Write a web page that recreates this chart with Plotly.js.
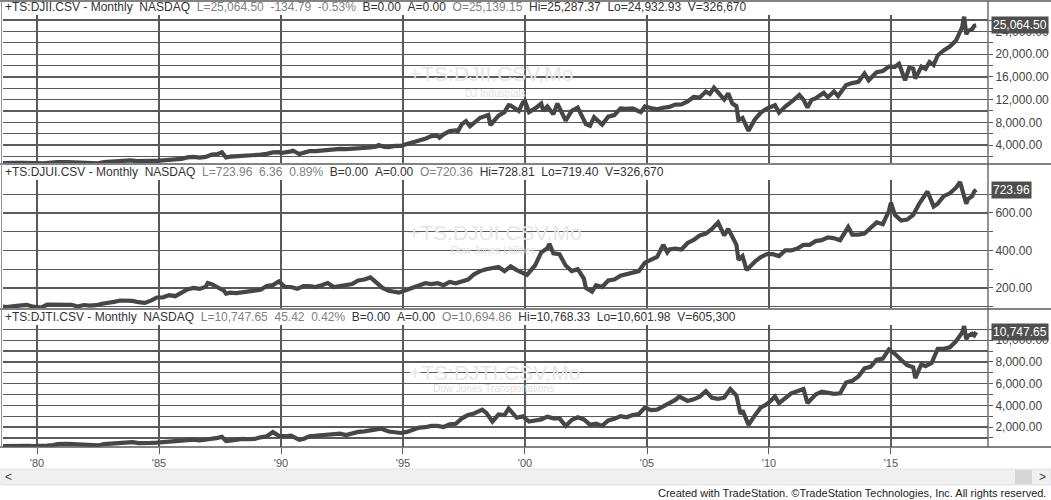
<!DOCTYPE html>
<html><head><meta charset="utf-8">
<script src="https://cdn.plot.ly/plotly-3.0.1.min.js"></script>
<style>html,body{margin:0;padding:0;background:#fff;}#chart{width:1051px;height:500px;}</style>
</head><body><div id="chart"></div>
<script>
// ---------- DATA ----------
const djiDates = ["1978-06","1978-09","1978-11","1979-03","1979-06","1979-09","1979-11","1980-04","1980-06","1980-09","1980-11","1981-04","1981-06","1981-09","1981-12","1982-03","1982-07","1982-10","1982-12","1983-03","1983-06","1983-09","1983-11","1984-02","1984-05","1984-07","1984-09","1984-12","1985-03","1985-06","1985-09","1985-12","1986-03","1986-06","1986-09","1986-12","1987-03","1987-06","1987-08","1987-10","1987-12","1988-03","1988-06","1988-09","1988-12","1989-03","1989-06","1989-09","1989-12","1990-01","1990-06","1990-07","1990-10","1990-12","1991-03","1991-06","1991-09","1991-12","1992-03","1992-06","1992-09","1992-12","1993-03","1993-06","1993-09","1993-12","1994-01","1994-04","1994-06","1994-09","1994-12","1995-03","1995-06","1995-09","1995-12","1996-03","1996-06","1996-07","1996-09","1996-12","1997-03","1997-04","1997-06","1997-08","1997-10","1997-12","1998-03","1998-07","1998-08","1998-12","1999-03","1999-05","1999-06","1999-10","1999-12","2000-01","2000-03","2000-06","2000-09","2000-10","2000-12","2001-03","2001-05","2001-09","2001-12","2002-03","2002-07","2002-09","2002-11","2003-03","2003-06","2003-09","2003-12","2004-03","2004-06","2004-10","2004-12","2005-03","2005-06","2005-09","2005-12","2006-03","2006-06","2006-09","2006-12","2007-03","2007-06","2007-08","2007-10","2007-12","2008-03","2008-05","2008-07","2008-09","2008-10","2008-12","2009-02","2009-03","2009-06","2009-09","2009-12","2010-04","2010-06","2010-09","2010-12","2011-04","2011-06","2011-08","2011-10","2011-12","2012-04","2012-06","2012-09","2012-11","2012-12","2013-03","2013-06","2013-09","2013-12","2014-02","2014-06","2014-09","2014-12","2015-03","2015-05","2015-08","2015-10","2015-12","2016-01","2016-04","2016-06","2016-08","2016-10","2016-12","2017-03","2017-06","2017-09","2017-11","2017-12","2018-01","2018-02","2018-03","2018-05","2018-06","2018-07"];
const djiValues = [819,880,790,862,842,878,800,760,868,932,990,1010,977,840,875,800,790,990,1047,1130,1222,1233,1280,1150,1110,1110,1207,1212,1267,1336,1329,1547,1819,1893,1768,1896,2305,2419,2700,1800,1939,1989,2142,2113,2169,2293,2440,2693,2753,2590,2881,2999,2400,2634,2914,2907,3017,3169,3236,3319,3272,3301,3436,3516,3555,3754,3978,3650,3625,3843,3834,4158,4556,4789,5117,5587,5655,5300,5882,6448,6584,6400,7673,8200,7300,7908,8800,9300,7500,9181,9786,11000,10971,10000,11497,11700,9800,10448,11300,10000,10788,9400,11300,8300,10022,10600,7700,7400,8900,7600,8985,9275,10454,10358,10435,9800,10783,10504,10275,10569,10718,11109,11150,11679,12463,12354,13409,13000,14100,13265,12000,13100,11300,10851,8400,8776,7062,6500,8447,9712,10428,11000,9700,10788,11578,12800,12000,10600,11955,12218,13200,12400,13437,12600,13104,14579,14910,15130,16577,15400,16827,17043,17823,17776,18300,15400,17600,17425,15700,17800,17400,18600,18100,19763,20663,21350,22405,24272,24719,26600,23500,24103,24416,25000,25064.50];

const djuDates = ["1978-06","1978-10","1979-03","1979-08","1979-11","1980-03","1980-06","1980-09","1980-12","1981-03","1981-06","1981-09","1981-12","1982-03","1982-06","1982-09","1982-12","1983-03","1983-06","1983-09","1983-12","1984-03","1984-06","1984-09","1984-12","1985-03","1985-06","1985-09","1985-12","1986-03","1986-06","1986-09","1986-12","1987-01","1987-03","1987-06","1987-09","1987-10","1987-12","1988-03","1988-06","1988-09","1988-12","1989-03","1989-06","1989-09","1989-12","1990-03","1990-06","1990-09","1990-12","1991-03","1991-06","1991-09","1991-12","1992-03","1992-06","1992-09","1992-12","1993-03","1993-06","1993-09","1993-12","1994-03","1994-06","1994-09","1994-11","1995-03","1995-06","1995-09","1995-12","1996-03","1996-06","1996-09","1996-12","1997-03","1997-06","1997-09","1997-12","1998-03","1998-06","1998-09","1998-12","1999-03","1999-06","1999-09","1999-12","2000-02","2000-06","2000-09","2000-12","2001-01","2001-03","2001-06","2001-09","2001-12","2002-03","2002-06","2002-07","2002-10","2002-12","2003-03","2003-06","2003-09","2003-12","2004-03","2004-06","2004-09","2004-12","2005-03","2005-06","2005-09","2005-11","2005-12","2006-03","2006-06","2006-09","2006-12","2007-03","2007-06","2007-09","2007-12","2008-03","2008-05","2008-09","2008-10","2008-12","2009-02","2009-06","2009-09","2009-12","2010-03","2010-06","2010-09","2010-12","2011-03","2011-06","2011-09","2011-12","2012-03","2012-06","2012-09","2012-12","2013-04","2013-06","2013-09","2013-12","2014-03","2014-06","2014-09","2014-12","2015-01","2015-03","2015-06","2015-09","2015-12","2016-03","2016-07","2016-10","2016-12","2017-03","2017-06","2017-09","2017-11","2017-12","2018-01","2018-02","2018-03","2018-05","2018-06","2018-07"];
const djuValues = [105,98,104,110,100,95,111,110,114,108,110,101,109,106,108,116,119,126,133,134,131,124,120,132,149,150,162,156,174,192,200,195,206,226,220,200,185,170,175,172,178,180,186,190,210,215,235,205,205,195,210,210,205,215,226,205,210,218,221,240,245,256,229,200,185,180,175,190,200,215,225,220,225,215,232,225,235,245,273,290,300,305,312,290,315,295,283,270,320,390,412,435,385,380,320,290,300,250,200,180,215,205,240,245,265,275,280,290,335,350,365,430,390,405,410,405,440,456,480,490,515,550,480,515,430,350,370,295,340,365,380,380,370,400,400,410,430,430,450,455,470,465,455,525,485,485,490,520,550,540,610,655,590,560,565,590,650,715,635,650,690,705,735,765,725,700,650,675,690,715,723.96];

const djtDates = ["1978-06","1978-09","1978-11","1979-03","1979-06","1979-09","1979-11","1980-03","1980-06","1980-09","1980-11","1981-04","1981-06","1981-09","1981-12","1982-03","1982-07","1982-10","1982-12","1983-03","1983-06","1983-09","1983-12","1984-03","1984-06","1984-09","1984-12","1985-03","1985-06","1985-09","1985-12","1986-03","1986-06","1986-09","1986-12","1987-03","1987-06","1987-08","1987-10","1987-12","1988-03","1988-06","1988-09","1988-12","1989-03","1989-06","1989-09","1989-12","1990-03","1990-06","1990-10","1990-12","1991-03","1991-06","1991-09","1991-12","1992-03","1992-06","1992-09","1992-12","1993-03","1993-06","1993-09","1993-12","1994-02","1994-06","1994-09","1994-12","1995-03","1995-06","1995-09","1995-12","1996-03","1996-06","1996-09","1996-12","1997-03","1997-06","1997-09","1997-12","1998-04","1998-06","1998-09","1998-12","1999-03","1999-05","1999-09","1999-12","2000-03","2000-06","2000-09","2000-12","2001-03","2001-06","2001-09","2001-12","2002-03","2002-06","2002-09","2002-12","2003-03","2003-06","2003-09","2003-12","2004-03","2004-06","2004-09","2004-12","2005-03","2005-06","2005-09","2005-12","2006-03","2006-05","2006-09","2006-12","2007-03","2007-06","2007-09","2007-12","2008-03","2008-06","2008-09","2008-11","2008-12","2009-03","2009-06","2009-09","2009-12","2010-04","2010-06","2010-09","2010-12","2011-03","2011-06","2011-08","2011-10","2011-12","2012-03","2012-06","2012-09","2012-12","2013-03","2013-06","2013-09","2013-12","2014-03","2014-06","2014-09","2014-12","2015-03","2015-06","2015-09","2015-12","2016-01","2016-04","2016-06","2016-09","2016-12","2017-03","2017-06","2017-09","2017-12","2018-01","2018-02","2018-03","2018-05","2018-06","2018-07"];
const djtValues = [230,250,205,230,245,265,235,230,290,340,420,445,430,340,380,340,300,430,450,520,590,570,600,520,480,530,560,610,650,630,710,780,830,760,810,950,1000,1100,700,750,850,900,870,900,1050,1150,1530,1180,1150,1200,820,900,1150,1200,1300,1360,1400,1380,1250,1450,1550,1600,1700,1760,1850,1580,1500,1450,1550,1800,1950,1980,2100,2100,2000,2250,2300,2800,3100,3250,3600,3300,2500,3150,3100,3700,2850,2980,2500,2600,2700,2950,2800,2800,2100,2650,2900,2700,2200,2300,2100,2600,2750,3000,2900,3100,3200,3800,3550,3600,3850,4200,4500,4800,4400,4550,4800,5300,4700,4600,4700,5500,4900,3200,3550,2200,3050,3800,4100,4800,4200,4600,5100,5300,5500,4200,4600,5000,5250,5150,5050,5100,6100,6250,6650,7400,7550,8200,8300,9150,8750,8200,7700,7500,6500,7800,7600,7900,9200,9200,9350,9900,10700,11300,10100,10400,10600,10450,10747.65];

const headers = [
  {sym:"+TS:DJII.CSV - Monthly", exch:"NASDAQ", chg:"L=25,064.50\u00a0\u00a0-134.79\u00a0\u00a0-0.53%", ba:"B=0.00\u00a0\u00a0A=0.00", open:"O=25,139.15", rest:"Hi=25,287.37\u00a0\u00a0Lo=24,932.93\u00a0\u00a0V=326,670"},
  {sym:"+TS:DJUI.CSV - Monthly", exch:"NASDAQ", chg:"L=723.96\u00a0\u00a06.36\u00a0\u00a00.89%", ba:"B=0.00\u00a0\u00a0A=0.00", open:"O=720.36", rest:"Hi=728.81\u00a0\u00a0Lo=719.40\u00a0\u00a0V=326,670"},
  {sym:"+TS:DJTI.CSV - Monthly", exch:"NASDAQ", chg:"L=10,747.65\u00a0\u00a045.42\u00a0\u00a00.42%", ba:"B=0.00\u00a0\u00a0A=0.00", open:"O=10,694.86", rest:"Hi=10,768.33\u00a0\u00a0Lo=10,601.98\u00a0\u00a0V=605,300"}
];
const watermarks = ["+TS:DJII.CSV,Mo","+TS:DJUI.CSV,Mo","+TS:DJTI.CSV,Mo"];
const subtitles = ["DJ Industrials","Dow Jones Utilities","Dow Jones Transportations"];
const footer = "Created with TradeStation. \u00a9TradeStation Technologies, Inc. All rights reserved.";

// ---------- LAYOUT ----------
const L = 3, PW = 985, PH = 447;
const px = x => (x - L) / PW;
const py = y => (PH - y) / PH;
const GRID = '#5a5a5a';
const FONT = 'Liberation Sans, Arial, sans-serif';
const lineStyle = {color:'#464646', width:4.2};

const traces = [
  {x:djiDates, y:djiValues, xaxis:'x', yaxis:'y', type:'scatter', mode:'lines', line:lineStyle, hoverinfo:'skip'},
  {x:djuDates, y:djuValues, xaxis:'x2', yaxis:'y2', type:'scatter', mode:'lines', line:lineStyle, hoverinfo:'skip'},
  {x:djtDates, y:djtValues, xaxis:'x3', yaxis:'y3', type:'scatter', mode:'lines', line:lineStyle, hoverinfo:'skip'}
];

const xBase = {type:'date', range:['1978-08-10','2018-12-24'], showgrid:true, gridcolor:GRID, gridwidth:1.3,
  dtick:'M60', tick0:'1980-01-01', zeroline:false, showline:false, fixedrange:true};
const yBase = {side:'right', showgrid:true, gridcolor:GRID, gridwidth:1.3, zeroline:false, showline:false,
  ticks:'outside', ticklen:4, tickcolor:GRID, tickfont:{family:FONT, size:12, color:'#444'}, fixedrange:true};
const minor = d => ({dtick:d, showgrid:true, gridcolor:GRID, gridwidth:1.3, ticks:'outside', ticklen:4, tickcolor:GRID});

const shapes = [];
const hline = (y, x0, x1) => shapes.push({type:'line', xref:'paper', yref:'paper', x0:px(x0), x1:px(x1), y0:py(y), y1:py(y), line:{color:GRID, width:1.3}});
hline(1, 0, 1051);
hline(164, 0, 1051);
hline(309, 0, 1051);
hline(447, 0, 1051);
shapes.push({type:'line', xref:'paper', yref:'paper', x0:px(988), x1:px(988), y0:py(447), y1:py(1), line:{color:GRID, width:1.3}});
shapes.push({type:'line', xref:'paper', yref:'paper', x0:px(1.5), x1:px(1.5), y0:py(447), y1:py(1), line:{color:'#999', width:1}});
// scroll bar
shapes.push({type:'rect', xref:'paper', yref:'paper', x0:px(1), x1:px(1051), y0:py(485), y1:py(469), fillcolor:'#f0f0f0', line:{color:'#e2e2e2', width:1}});
shapes.push({type:'rect', xref:'paper', yref:'paper', x0:px(1015), x1:px(1032), y0:py(484), y1:py(470), fillcolor:'#d6d6d6', line:{width:0}});

const ann = [];
const hdrY = [7, 172, 317];
headers.forEach((h, i) => {
  ann.push({xref:'paper', yref:'paper', x:px(3), y:py(hdrY[i]), xanchor:'left', yanchor:'middle', showarrow:false,
    font:{family:FONT, size:12, color:'#333'},
    text:'<span style="color:#333">'+h.sym+'\u00a0\u00a0'+h.exch+'</span>\u00a0\u00a0<span style="color:#808080">'+h.chg+'</span>\u00a0\u00a0<span style="color:#333">'+h.ba+'</span>\u00a0\u00a0<span style="color:#808080">'+h.open+'</span>\u00a0\u00a0<span style="color:#333">'+h.rest+'</span>'});
});
const wmPos = [[491,73,495,93],[495,232,493,250],[494,372,493,388]];
watermarks.forEach((w, i) => {
  const p = wmPos[i];
  ann.push({xref:'paper', yref:'paper', x:px(p[0]), y:py(p[1]), xanchor:'center', yanchor:'middle', showarrow:false,
    font:{family:FONT, size:21, color:'#e6e6e6'}, text:w});
  ann.push({xref:'paper', yref:'paper', x:px(p[2]), y:py(p[3]), xanchor:'center', yanchor:'middle', showarrow:false,
    font:{family:FONT, size:10, color:'#e0e0e0'}, text:subtitles[i]});
});
// last value boxes
const lastVals = [djiValues[djiValues.length-1], djuValues[djuValues.length-1], djtValues[djtValues.length-1]];
const yNames = ['y','y2','y3'];
lastVals.forEach((v, i) => {
  ann.push({xref:'paper', yref:yNames[i], x:1, y:v, xanchor:'left', yanchor:'middle', xshift:3, showarrow:false,
    bgcolor:'#4f4f4f', borderpad:1, font:{family:FONT, size:12, color:'#ffffff'},
    text:v.toLocaleString('en-US',{minimumFractionDigits:2, maximumFractionDigits:2})});
});
ann.push({xref:'paper', yref:'paper', x:px(8), y:py(477), xanchor:'center', yanchor:'middle', showarrow:false, font:{family:FONT, size:12, color:'#444'}, text:'&lt;'});
ann.push({xref:'paper', yref:'paper', x:px(1042), y:py(477), xanchor:'center', yanchor:'middle', showarrow:false, font:{family:FONT, size:12, color:'#444'}, text:'&gt;'});
ann.push({xref:'paper', yref:'paper', x:px(1048), y:py(493), xanchor:'right', yanchor:'middle', showarrow:false, font:{family:FONT, size:11, color:'#222'}, text:footer});

const layout = {
  width:1051, height:500, margin:{l:L, r:1051-988, t:0, b:500-PH, pad:0},
  paper_bgcolor:'#ffffff', plot_bgcolor:'#ffffff', showlegend:false,
  xaxis: Object.assign({}, xBase, {anchor:'y', showticklabels:false, ticks:''}),
  xaxis2: Object.assign({}, xBase, {anchor:'y2', matches:'x', showticklabels:false, ticks:''}),
  xaxis3: Object.assign({}, xBase, {anchor:'y3', matches:'x', showticklabels:true, ticks:'outside', ticklen:6, tickcolor:GRID,
    tickformat:"'%y", tickfont:{family:FONT, size:11, color:'#555'}}),
  yaxis: Object.assign({}, yBase, {anchor:'x', domain:[py(163), py(15)], range:[830, 26900], dtick:4000, tick0:0, tickformat:',.2f', minor:minor(2000)}),
  yaxis2: Object.assign({}, yBase, {anchor:'x2', domain:[py(308), py(180)], range:[93, 776], dtick:200, tick0:0, tickformat:',.2f', minor:minor(100)}),
  yaxis3: Object.assign({}, yBase, {anchor:'x3', domain:[0, py(325)], range:[157, 11400], dtick:2000, tick0:0, tickformat:',.2f', minor:minor(1000)}),
  shapes:shapes, annotations:ann
};
Plotly.newPlot('chart', traces, layout, {displayModeBar:false, staticPlot:true});
</script></body></html>
